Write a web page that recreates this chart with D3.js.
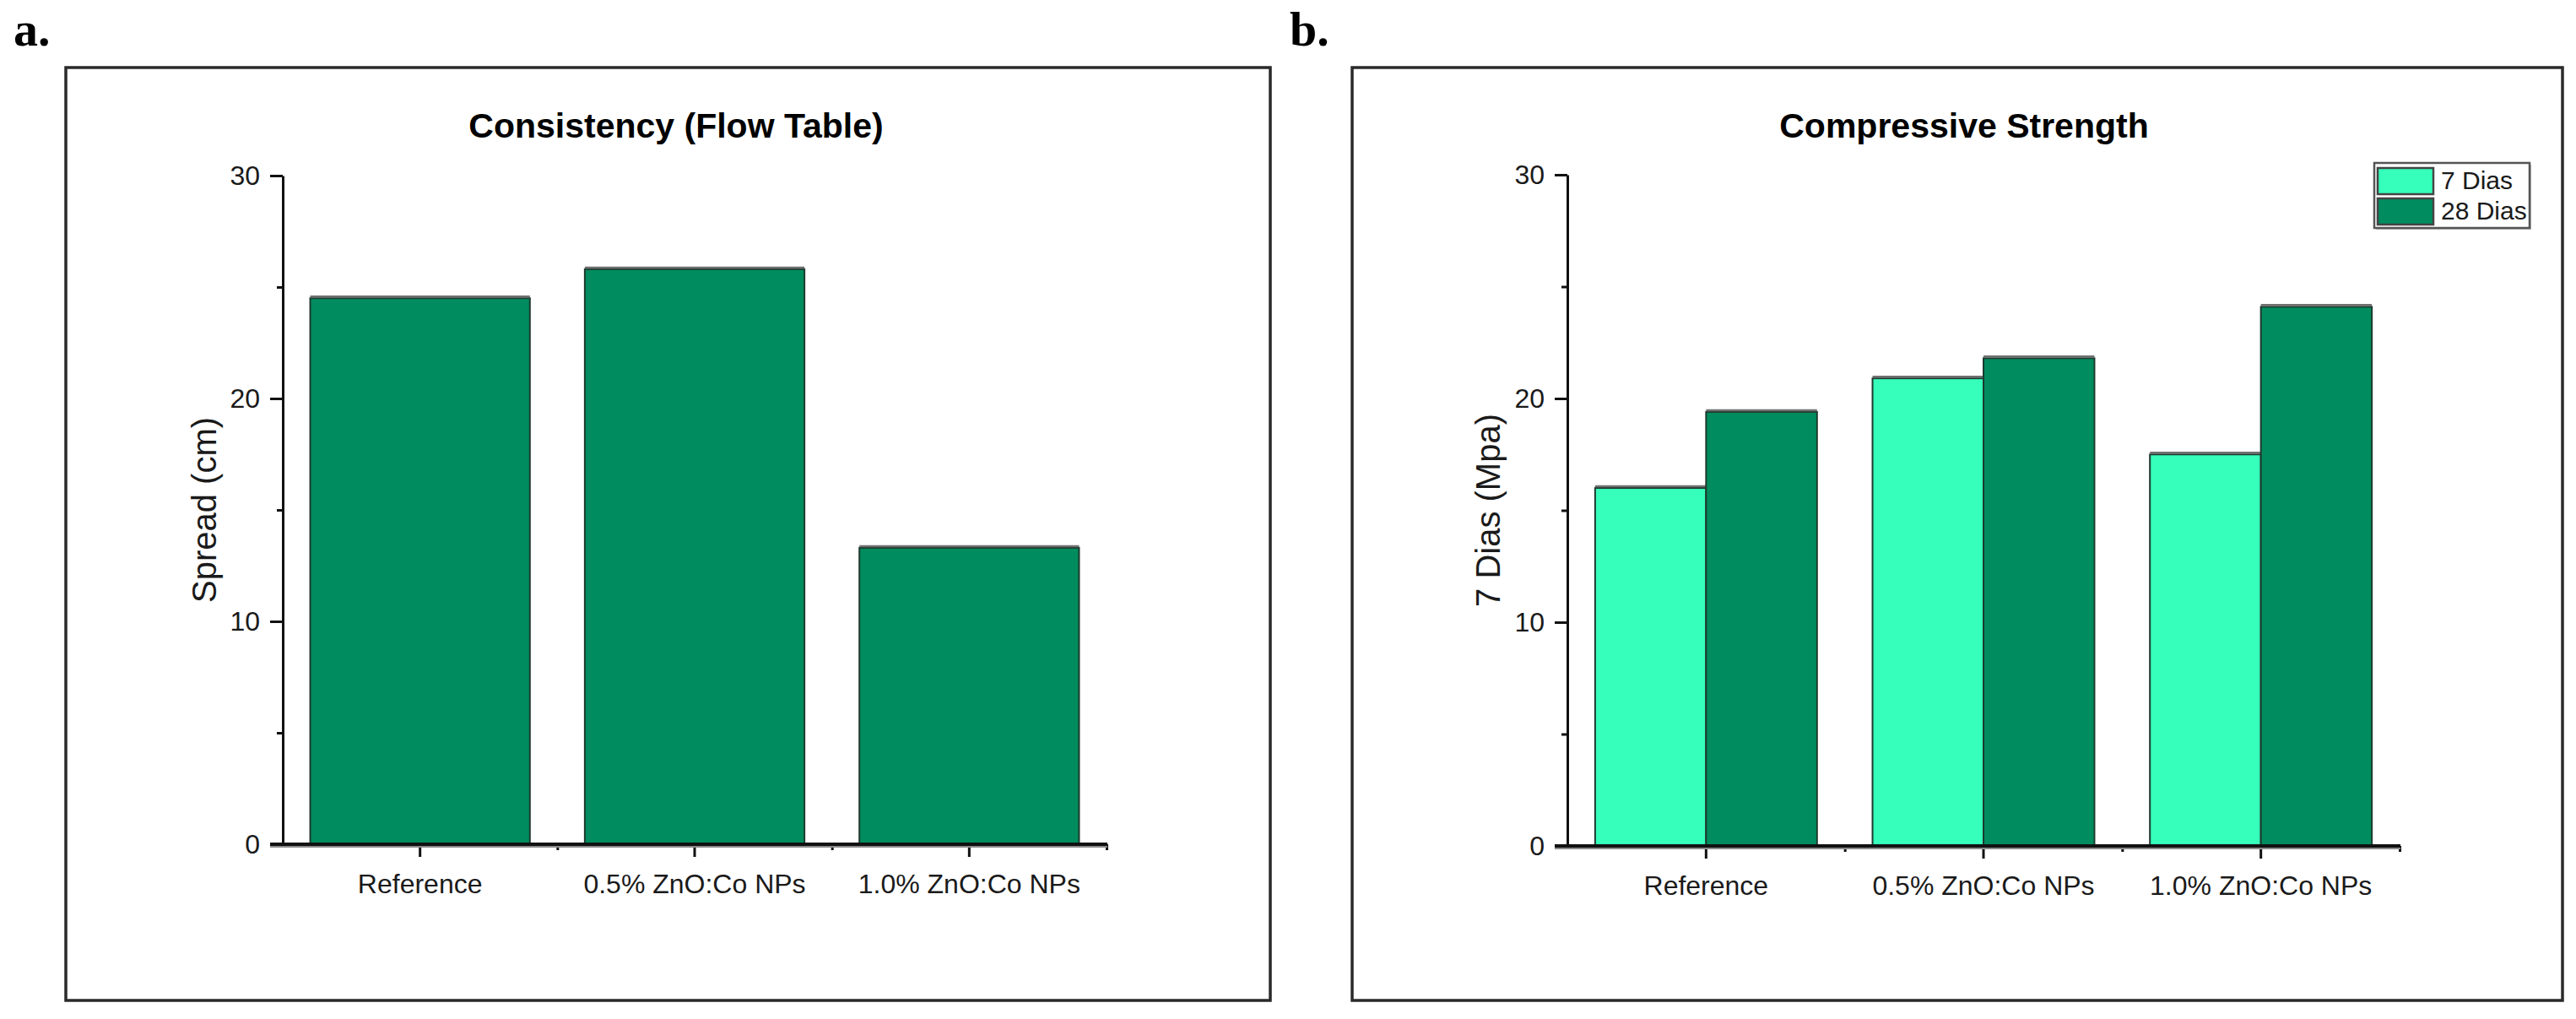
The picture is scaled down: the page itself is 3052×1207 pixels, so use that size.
<!DOCTYPE html>
<html>
<head>
<meta charset="utf-8">
<script src="https://cdn.jsdelivr.net/npm/d3@7"></script>
<style>
  html, body { margin: 0; padding: 0; background: #fff; }
  svg { display: block; }
  text { font-family: "Liberation Sans", Arial, sans-serif; fill: #1a1a1a; }
</style>
</head>
<body>
<svg id="chart" width="3052" height="1207"></svg>
<script>
// ---------- data ----------
const categories = ["Reference", "0.5% ZnO:Co NPs", "1.0% ZnO:Co NPs"];
const spreadValues = [24.5, 25.8, 13.3];
const seriesNames = ["7 Dias", "28 Dias"];
const dias7Values = [16.0, 20.9, 17.5];
const dias28Values = [19.4, 21.8, 24.1];
const yMajorTicks = [0, 10, 20, 30];
const yMinorTicks = [5, 15, 25];
const yDomain = [0, 30];

const COLOR_DARK = "#008c5e";
const COLOR_LIGHT = "#35ffbb";
const BAR_STROKE = "#1d3a2d";

const svg = d3.select("#chart");
svg.append("rect").attr("width", 3052).attr("height", 1207).attr("fill", "#fff");

function drawPanel(cfg) {
  const g = svg.append("g");

  // frame
  g.append("rect")
    .attr("x", cfg.box[0]).attr("y", cfg.box[1])
    .attr("width", cfg.box[2] - cfg.box[0]).attr("height", cfg.box[3] - cfg.box[1])
    .attr("fill", "none").attr("stroke", "#2a2a2a").attr("stroke-width", 3.5);

  // panel letter
  g.append("text")
    .attr("x", cfg.letterPos[0]).attr("y", cfg.letterPos[1])
    .style("font-family", "'Liberation Serif', 'DejaVu Serif', serif")
    .style("font-weight", "bold").style("font-size", "58px").style("fill", "#000")
    .text(cfg.letter);

  // title
  g.append("text")
    .attr("x", cfg.titlePos[0]).attr("y", cfg.titlePos[1])
    .attr("text-anchor", "middle")
    .style("font-weight", "bold").style("font-size", "41px").style("fill", "#000")
    .text(cfg.title);

  const x = d3.scaleBand().domain(categories)
    .range(cfg.xRange).paddingInner(0.2).paddingOuter(0.1);
  const y = d3.scaleLinear().domain(yDomain).range(cfg.yRange);

  // bars
  const inner = d3.scaleBand().domain(cfg.series.map(s => s.name))
    .range([0, x.bandwidth()]).padding(0);

  cfg.series.forEach(s => {
    const bars = g.append("g");
    bars.selectAll("rect.bar").data(categories.map((c, i) => ({ c, v: s.values[i] })))
      .join("rect").attr("class", "bar")
      .attr("x", d => x(d.c) + inner(s.name))
      .attr("y", d => y(d.v))
      .attr("width", inner.bandwidth())
      .attr("height", d => y(0) - y(d.v))
      .attr("fill", s.color)
      .attr("stroke", BAR_STROKE).attr("stroke-width", 2);
    // grey top edge highlight
    bars.selectAll("line.top").data(categories.map((c, i) => ({ c, v: s.values[i] })))
      .join("line").attr("class", "top")
      .attr("x1", d => x(d.c) + inner(s.name))
      .attr("x2", d => x(d.c) + inner(s.name) + inner.bandwidth())
      .attr("y1", d => y(d.v) - 2).attr("y2", d => y(d.v) - 2)
      .attr("stroke", "#707070").attr("stroke-width", 2.5);
  });

  // y axis (major)
  const yAxisG = g.append("g").attr("transform", `translate(${cfg.xRange[0]},0)`)
    .call(d3.axisLeft(y).tickValues(yMajorTicks).tickSize(15).tickSizeOuter(0).tickPadding(12)
      .tickFormat(d3.format("d")));
  yAxisG.select(".domain").attr("stroke", "#111").attr("stroke-width", 3);
  yAxisG.selectAll(".tick line").attr("stroke", "#111").attr("stroke-width", 3);
  yAxisG.selectAll(".tick text").style("font-size", "32px")
    .style("font-family", "'Liberation Sans', Arial, sans-serif").attr("fill", "#222");

  // y axis (minor)
  const yMinorG = g.append("g").attr("transform", `translate(${cfg.xRange[0]},0)`)
    .call(d3.axisLeft(y).tickValues(yMinorTicks).tickSize(7).tickSizeOuter(0).tickFormat(""));
  yMinorG.select(".domain").remove();
  yMinorG.selectAll(".tick line").attr("stroke", "#111").attr("stroke-width", 3);

  // x axis (major, at category centres)
  const xAxisG = g.append("g").attr("transform", `translate(0,${y(0)})`)
    .call(d3.axisBottom(x).tickSize(15).tickSizeOuter(0).tickPadding(20));
  xAxisG.select(".domain").remove();
  xAxisG.selectAll(".tick line").attr("stroke", "#111").attr("stroke-width", 3);
  xAxisG.selectAll(".tick text").style("font-size", "32px")
    .style("font-family", "'Liberation Sans', Arial, sans-serif").attr("fill", "#222");

  // x axis minor ticks at group boundaries
  const xIdx = d3.scaleLinear().domain([0, categories.length]).range(cfg.xRange);
  const xMinorG = g.append("g").attr("transform", `translate(0,${y(0)})`)
    .call(d3.axisBottom(xIdx).tickValues(d3.range(1, categories.length + 1)).tickSize(7)
      .tickSizeOuter(0).tickFormat(""));
  xMinorG.select(".domain").remove();
  xMinorG.selectAll(".tick line").attr("stroke", "#111").attr("stroke-width", 3);

  // x axis baseline (thick, with shadow)
  g.append("line")
    .attr("x1", cfg.xRange[0] - 15).attr("x2", cfg.xRange[1] + 1)
    .attr("y1", y(0) + 2.5).attr("y2", y(0) + 2.5)
    .attr("stroke", "#8a8a8a").attr("stroke-width", 3);
  g.append("line")
    .attr("x1", cfg.xRange[0] - 15).attr("x2", cfg.xRange[1] + 1)
    .attr("y1", y(0)).attr("y2", y(0))
    .attr("stroke", "#111").attr("stroke-width", 4);

  // y label
  g.append("text")
    .attr("transform", `translate(${cfg.yLabelX},${(cfg.yRange[0] + cfg.yRange[1]) / 2}) rotate(-90)`)
    .attr("text-anchor", "middle")
    .style("font-size", "40px").attr("fill", "#1a1a1a")
    .text(cfg.yLabel);

  // legend
  if (cfg.legend) {
    const L = cfg.legend;
    const lg = g.append("g");
    lg.append("rect").attr("x", L.x + 2).attr("y", L.y + 2).attr("width", L.w).attr("height", L.h)
      .attr("fill", "#bbb");
    lg.append("rect").attr("x", L.x).attr("y", L.y).attr("width", L.w).attr("height", L.h)
      .attr("fill", "#fff").attr("stroke", "#555").attr("stroke-width", 2.5);
    cfg.series.forEach((s, i) => {
      const yy = L.y + 6 + i * 36;
      lg.append("rect").attr("x", L.x + 4).attr("y", yy).attr("width", 66).attr("height", 31)
        .attr("fill", s.color).attr("stroke", "#444").attr("stroke-width", 2.5);
      lg.append("text").attr("x", L.x + 79).attr("y", yy + 25)
        .style("font-size", "30px").attr("fill", "#1a1a2a").text(s.name);
    });
  }
}

drawPanel({
  letter: "a.", letterPos: [16, 54],
  box: [78, 80, 1505, 1185],
  title: "Consistency (Flow Table)", titlePos: [801, 163],
  xRange: [335, 1311], yRange: [1000, 208],
  yLabel: "Spread (cm)", yLabelX: 256,
  series: [{ name: "Spread", values: spreadValues, color: COLOR_DARK }]
});

drawPanel({
  letter: "b.", letterPos: [1528, 54],
  box: [1602, 80, 3036, 1185],
  title: "Compressive Strength", titlePos: [2327, 163],
  xRange: [1857, 2843], yRange: [1002, 207],
  yLabel: "7 Dias (Mpa)", yLabelX: 1777,
  series: [
    { name: seriesNames[0], values: dias7Values, color: COLOR_LIGHT },
    { name: seriesNames[1], values: dias28Values, color: COLOR_DARK }
  ],
  legend: { x: 2813, y: 193, w: 184, h: 77 }
});
</script>
</body>
</html>
